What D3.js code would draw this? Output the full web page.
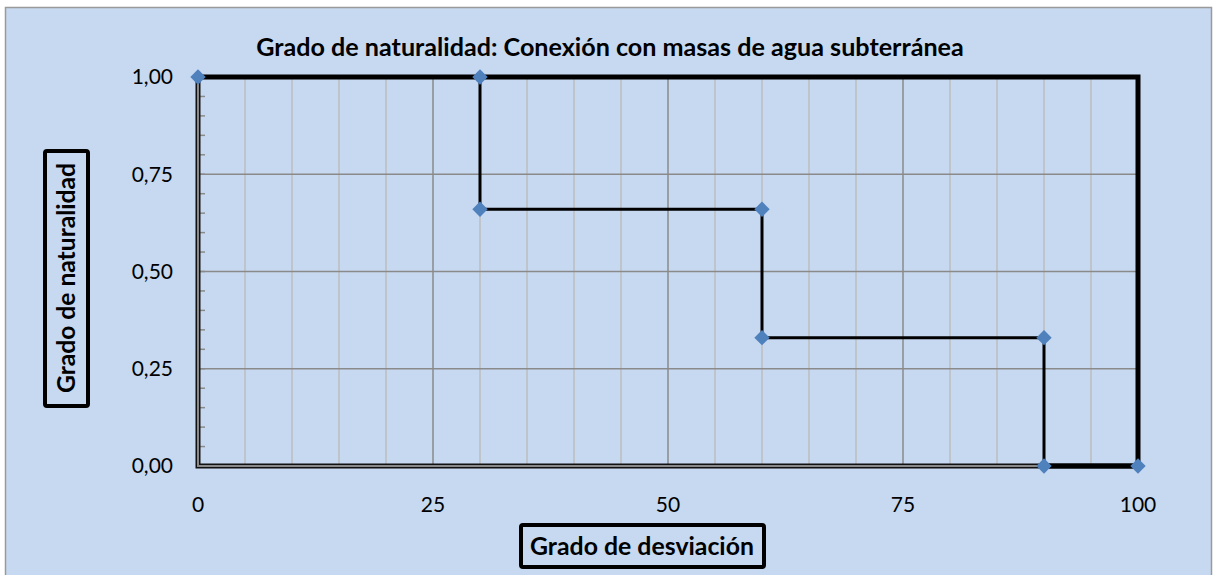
<!DOCTYPE html>
<html><head><meta charset="utf-8">
<script src="https://cdn.jsdelivr.net/npm/d3@7"></script>
<style>body{margin:0;background:#fff;} svg{display:block;}</style>
</head><body>
<svg id="chart" width="1214" height="575"></svg>
<script>
const xValues = [0, 30, 30, 60, 60, 90, 90, 100];
const yValues = [1, 1, 0.66, 0.66, 0.33, 0.33, 0, 0];
const xTicks = [0, 25, 50, 75, 100];
const yTicks = [0, 0.25, 0.5, 0.75, 1];
const chartTitle = "Grado de naturalidad: Conexión con masas de agua subterránea";
const xTitle = "Grado de desviación";
const yTitle = "Grado de naturalidad";

const svg = d3.select("#chart");
const font = "Lato, 'Open Sans', sans-serif";
const M = {left: 198, right: 1138, top: 77, bottom: 466};
const x = d3.scaleLinear().domain([0, 100]).range([M.left, M.right]);
const y = d3.scaleLinear().domain([0, 1]).range([M.bottom, M.top]);

function fitWidth(sel, target) {
  const n = sel.node();
  const fs = parseFloat(sel.attr("font-size"));
  const w = n.getComputedTextLength();
  if (w > 0) sel.attr("font-size", (fs * target / w).toFixed(2));
}

svg.append("rect").attr("x", 5.5).attr("y", 7.5).attr("width", 1206).attr("height", 580)
  .attr("fill", "#C6D9F1").attr("stroke", "#9A9A9A").attr("stroke-width", 1.5);

const g = svg.append("g");
g.selectAll(".vmin").data(d3.range(5, 100, 5).filter(d => d % 25 !== 0)).join("line")
  .attr("x1", d => x(d)).attr("x2", d => x(d)).attr("y1", y(1)).attr("y2", y(0))
  .attr("stroke", "#BCBCBC").attr("stroke-width", 1.5);
g.selectAll(".vmaj").data([25, 50, 75]).join("line")
  .attr("x1", d => x(d)).attr("x2", d => x(d)).attr("y1", y(1)).attr("y2", y(0))
  .attr("stroke", "#8A8A8A").attr("stroke-width", 1.5);
g.selectAll(".hmaj").data([0.25, 0.5, 0.75]).join("line")
  .attr("x1", x(0)).attr("x2", x(100)).attr("y1", d => y(d)).attr("y2", d => y(d))
  .attr("stroke", "#8A8A8A").attr("stroke-width", 1.5);

g.selectAll(".ymt").data(d3.range(0.05, 1, 0.05)).join("line")
  .attr("x1", x(0)).attr("x2", x(0) + 7).attr("y1", d => y(d)).attr("y2", d => y(d))
  .attr("stroke", "#8A8A8A").attr("stroke-width", 1.5);

g.append("path")
  .attr("d", `M${x(0)},${y(1)}H${x(100)}V${y(0)}`)
  .attr("fill", "none").attr("stroke", "#000").attr("stroke-width", 5);

const axisPath = `M${x(0)},${y(1)}V${y(0)}H${x(100)}`;
g.append("path").attr("d", axisPath).attr("fill", "none").attr("stroke", "#111").attr("stroke-width", 5);
g.append("path").attr("d", axisPath).attr("fill", "none").attr("stroke", "#8A8A8A").attr("stroke-width", 2);

const pts = xValues.map((d, i) => [d, yValues[i]]);
const line = d3.line().x(d => x(d[0])).y(d => y(d[1]));
g.append("path").datum(pts).attr("d", line).attr("fill", "none")
  .attr("stroke", "#000").attr("stroke-width", 3);
g.append("path").datum(pts.slice(6)).attr("d", line).attr("fill", "none")
  .attr("stroke", "#000").attr("stroke-width", 5);

g.selectAll(".mk").data(pts).join("path")
  .attr("d", d3.symbol().type(d3.symbolSquare).size(118))
  .attr("transform", d => `translate(${x(d[0])},${y(d[1])}) rotate(45)`)
  .attr("fill", "#4F81BD");

const fmt = d => d.toFixed(2).replace(".", ",");
svg.selectAll(".ytl").data(yTicks).join("text")
  .attr("x", 173).attr("y", d => y(d)).attr("dy", "0.35em").attr("text-anchor", "end")
  .attr("font-family", font).attr("font-size", 21).attr("fill", "#000").text(fmt);
svg.selectAll(".xtl").data(xTicks).join("text")
  .attr("x", d => x(d)).attr("y", 505).attr("dy", "0.35em").attr("text-anchor", "middle")
  .attr("font-family", font).attr("font-size", 21).attr("fill", "#000").text(d => d);

const t = svg.append("text").attr("x", 610).attr("y", 47).attr("dy", "0.35em").attr("text-anchor", "middle")
  .attr("font-family", font).attr("font-weight", "bold").attr("font-size", 20).attr("fill", "#000")
  .text(chartTitle);
fitWidth(t, 708);

svg.append("rect").attr("x", 521).attr("y", 525).attr("width", 243).attr("height", 42).attr("rx", 2)
  .attr("fill", "#C6D9F1").attr("stroke", "#000").attr("stroke-width", 4);
const xt = svg.append("text").attr("x", 642).attr("y", 546).attr("dy", "0.35em").attr("text-anchor", "middle")
  .attr("font-family", font).attr("font-weight", "bold").attr("font-size", 20).attr("fill", "#000")
  .text(xTitle);
fitWidth(xt, 224);

svg.append("rect").attr("x", 45).attr("y", 151).attr("width", 43).attr("height", 255).attr("rx", 2)
  .attr("fill", "#C6D9F1").attr("stroke", "#000").attr("stroke-width", 4);
const yt = svg.append("text").attr("transform", "translate(66,278) rotate(-90)").attr("dy", "0.35em")
  .attr("text-anchor", "middle")
  .attr("font-family", font).attr("font-weight", "bold").attr("font-size", 20).attr("fill", "#000")
  .text(yTitle);
fitWidth(yt, 230);
</script>
</body></html>
